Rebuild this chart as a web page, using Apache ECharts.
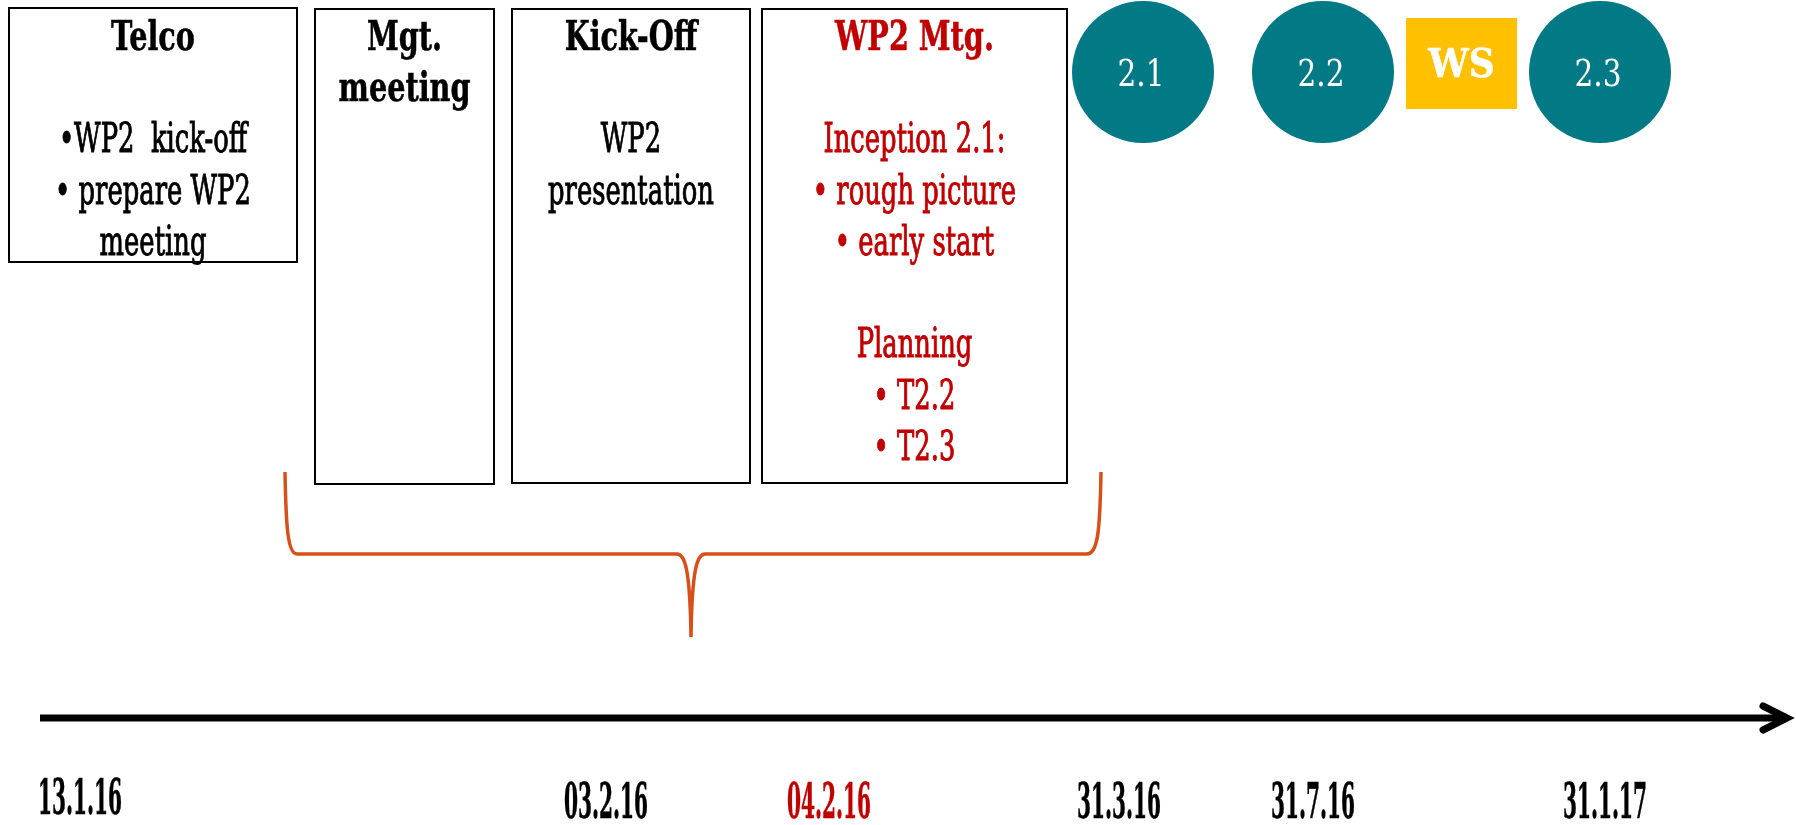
<!DOCTYPE html>
<html>
  <head>
    <meta http-equiv="Content-Type" content="text/html; charset=utf-8" />
    <title>WP2 timeline</title>
    <script src="https://cdn.jsdelivr.net/npm/echarts@6/dist/echarts.min.js"></script>
    <style>
      html, body { margin: 0; padding: 0; background: #fff; }
      #main { width: 1796px; height: 825px; }
    </style>
  </head>
  <body>
    <div id="main"></div>
    <script>
      // --- data ---
      var boxNames = ['Telco', 'Mgt. meeting', 'Kick-Off', 'WP2 Mtg.'];
      var boxLines = [
        ['Telco', '', '\u2022WP2  kick-off', '\u2022 prepare WP2', 'meeting'],
        ['Mgt.', 'meeting'],
        ['Kick-Off', '', 'WP2', 'presentation'],
        ['WP2 Mtg.', '', 'Inception 2.1:', '\u2022 rough picture', '\u2022 early start', '', 'Planning', '\u2022 T2.2', '\u2022 T2.3']
      ];
      var boxBoldLines = [1, 2, 1, 1];
      var milestones = ['2.1', '2.2', 'WS', '2.3'];
      var milestoneKinds = ['task', 'task', 'workshop', 'task'];
      var dates = ['13.1.16', '03.2.16', '04.2.16', '31.3.16', '31.7.16', '31.1.17'];
      var highlightDate = '04.2.16';
      var highlightBox = 'WP2 Mtg.';

      // --- layout (diagram units = px of the 1796x825 sheet) ---
      var boxX = [[9, 297], [315, 494], [512, 750], [762, 1067]];
      var boxY = [[8, 262], [9, 484], [9, 483], [9, 483]];
      var rowTop = 39, rowStep = 51.3;
      var milestoneX = [1143, 1323, 1462, 1600];
      var milestoneY = 72, milestoneR = 71;
      var wsBox = [1406, 1517, 18, 109];
      var dateX = [80, 606, 829, 1119, 1313, 1605];
      var dateY = [802, 806, 806, 806, 806, 806];
      var timelineY = 718, timelineX = [40, 1787];
      var brace = { left: 285, mid: 691, right: 1101, top: 472, bar: 554, tip: 637 };

      var FONT = '"DejaVu Serif", "Liberation Serif", serif';
      var RED = '#C00000', TEAL = '#017A86', GOLD = '#FFC000', ORANGE = '#D65019';

      function txt(x, y, text, size, weight, color, sx, stroke) {
        return {
          type: 'text', x: x, y: y, scaleX: sx,
          style: {
            text: text, fontSize: size, fontFamily: FONT, fontWeight: weight,
            fill: color, align: 'center', verticalAlign: 'middle',
            stroke: stroke ? color : null, lineWidth: stroke || 0
          }
        };
      }

      function renderBox(params, api) {
        var i = api.value(0);
        var p0 = api.coord([boxX[i][0], boxY[i][0]]);
        var p1 = api.coord([boxX[i][1], boxY[i][1]]);
        var color = boxNames[i] === highlightBox ? RED : '#000';
        var cx = (p0[0] + p1[0]) / 2;
        var kids = [{
          type: 'rect',
          shape: { x: p0[0], y: p0[1], width: p1[0] - p0[0], height: p1[1] - p0[1] },
          style: { fill: '#fff', stroke: '#000', lineWidth: 2 }
        }];
        boxLines[i].forEach(function (line, k) {
          if (!line) return;
          var y = api.coord([0, rowTop + rowStep * k])[1];
          var bold = k < boxBoldLines[i];
          kids.push(txt(cx, y, line, 41, bold ? 'bold' : 'normal', color, bold ? 0.7 : 0.63, bold ? 0.6 : 1));
        });
        return { type: 'group', children: kids };
      }

      function renderMilestone(params, api) {
        var i = api.value(0);
        var c = api.coord([milestoneX[i], milestoneY]);
        var kids = [];
        if (milestoneKinds[i] === 'workshop') {
          var a = api.coord([wsBox[0], wsBox[2]]);
          var b = api.coord([wsBox[1], wsBox[3]]);
          kids.push({ type: 'rect', shape: { x: a[0], y: a[1], width: b[0] - a[0], height: b[1] - a[1] }, style: { fill: GOLD } });
          kids.push(txt((a[0] + b[0]) / 2, (a[1] + b[1]) / 2 + 3, milestones[i], 40, 'bold', '#fff', 0.9, 0.5));
        } else {
          var r = api.size([milestoneR, 0])[0];
          kids.push({ type: 'circle', shape: { cx: c[0], cy: c[1], r: r }, style: { fill: TEAL } });
          kids.push(txt(c[0] - 2, c[1] + 4, milestones[i], 37, 'normal', '#fff', 0.8));
        }
        return { type: 'group', children: kids };
      }

      function renderDate(params, api) {
        var i = api.value(0);
        var p = api.coord([dateX[i], dateY[i]]);
        var color = dates[i] === highlightDate ? RED : '#000';
        return txt(p[0], p[1], dates[i], 48, 'bold', color, 0.42, 0.6);
      }

      function renderTimeline(params, api) {
        var a = api.coord([timelineX[0], timelineY]);
        var b = api.coord([timelineX[1], timelineY]);
        var h1 = api.coord([timelineX[1] - 24, timelineY - 12]);
        var h2 = api.coord([timelineX[1] - 24, timelineY + 12]);
        return {
          type: 'group', children: [
            { type: 'line', shape: { x1: a[0], y1: a[1], x2: b[0] - 3, y2: b[1] }, style: { stroke: '#000', lineWidth: 7 } },
            { type: 'polyline', shape: { points: [h1, b, h2] }, style: { stroke: '#000', lineWidth: 7, fill: null, lineCap: 'round', lineJoin: 'miter' } }
          ]
        };
      }

      function renderBrace(params, api) {
        var L = api.coord([brace.left, brace.top]);
        var LB = api.coord([brace.left + 12, brace.bar]);
        var M = api.coord([brace.mid, brace.tip]);
        var MB = api.coord([brace.mid, brace.bar]);
        var RB = api.coord([brace.right - 14, brace.bar]);
        var R = api.coord([brace.right, brace.top]);
        var d = 'M' + L[0] + ' ' + L[1] +
          ' C' + (L[0] + 1) + ' ' + (LB[1] - 25) + ' ' + (L[0] + 3) + ' ' + LB[1] + ' ' + LB[0] + ' ' + LB[1] +
          ' L' + (MB[0] - 14) + ' ' + MB[1] +
          ' C' + (MB[0] - 6) + ' ' + MB[1] + ' ' + (M[0] - 1) + ' ' + (MB[1] + 15) + ' ' + M[0] + ' ' + M[1] +
          ' M' + M[0] + ' ' + M[1] +
          ' C' + (M[0] + 1) + ' ' + (MB[1] + 15) + ' ' + (MB[0] + 6) + ' ' + MB[1] + ' ' + (MB[0] + 14) + ' ' + MB[1] +
          ' L' + RB[0] + ' ' + RB[1] +
          ' C' + (R[0] - 3) + ' ' + RB[1] + ' ' + (R[0] - 1) + ' ' + (RB[1] - 25) + ' ' + R[0] + ' ' + R[1];
        return { type: 'path', shape: { pathData: d }, style: { stroke: ORANGE, lineWidth: 3.5, fill: null } };
      }

      var myChart = echarts.init(document.getElementById('main'));
      function idx(arr) { return arr.map(function (v, i) { return [i]; }); }

      var option = {
        animation: false,
        backgroundColor: '#fff',
        grid: { left: 0, right: 0, top: 0, bottom: 0 },
        xAxis: { type: 'value', min: 0, max: 1796, show: false },
        yAxis: { type: 'value', min: 0, max: 825, inverse: true, show: false },
        series: [
          { type: 'custom', name: 'brace', renderItem: renderBrace, data: [[0]], silent: true },
          { type: 'custom', name: 'boxes', renderItem: renderBox, data: idx(boxNames), silent: true },
          { type: 'custom', name: 'milestones', renderItem: renderMilestone, data: idx(milestones), silent: true },
          { type: 'custom', name: 'timeline', renderItem: renderTimeline, data: [[0]], silent: true },
          { type: 'custom', name: 'dates', renderItem: renderDate, data: idx(dates), silent: true }
        ]
      };
      myChart.setOption(option);
    </script>
  </body>
</html>
